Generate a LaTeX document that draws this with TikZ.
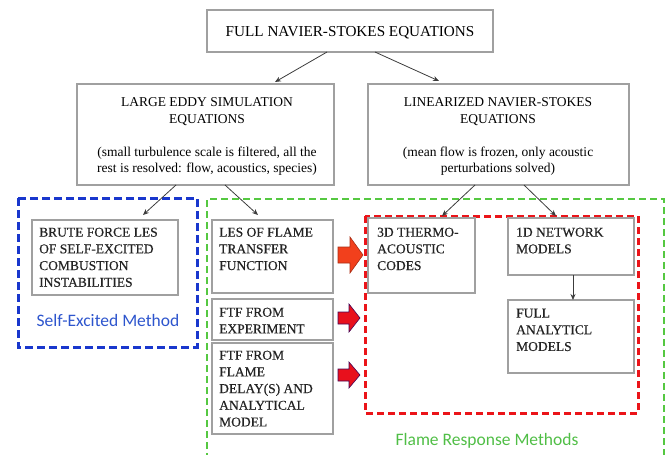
\documentclass[tikz,border=0pt]{standalone}
\usepackage{fontspec}
\setmainfont{Liberation Serif}
\newfontfamily\heavyfont{Liberation Serif}[FakeBold=0.35]
\newfontfamily\labelfont{Carlito}
\usetikzlibrary{arrows.meta,calc}
\definecolor{boxgray}{RGB}{160,160,160}
\definecolor{dblue}{RGB}{25,55,205}
\definecolor{tblue}{RGB}{45,85,205}
\definecolor{dgreen}{RGB}{85,200,65}
\definecolor{tgreen}{RGB}{80,190,70}
\definecolor{dred}{RGB}{235,20,25}
\definecolor{arrA}{RGB}{242,64,28}
\definecolor{arrB}{RGB}{232,16,28}
\definecolor{arrline}{RGB}{60,60,60}
\definecolor{txtdark}{RGB}{35,35,35}
\begin{document}
\begin{tikzpicture}[x=1pt,y=-1pt,
  box/.style={draw=boxgray, line width=1.5pt, fill=white, inner sep=0pt, outer sep=0pt, anchor=north west},
  txt/.style={inner sep=0pt, anchor=north west, align=left, text=txtdark, font=\heavyfont\fontsize{13.5}{16.7}\selectfont},
  ctxt/.style={inner sep=0pt, anchor=north, align=center, font=\fontsize{13.5}{16.7}\selectfont},
  arr/.style={draw=arrline, line width=0.8pt, -{Stealth[length=6pt,width=5pt]}},
  bluebox/.style={draw=dblue, line width=3pt, dash pattern=on 8pt off 4pt},
  greenbox/.style={draw=dgreen, line width=2.4pt, dash pattern=on 7pt off 4pt},
  redbox/.style={draw=dred, line width=3pt, dash pattern=on 7pt off 4pt},
  lbl/.style={inner sep=0pt, font=\labelfont\fontsize{17.5}{20}\selectfont}
]
\useasboundingbox (0,0) rectangle (672,455);

% dashed group frames
\draw[greenbox] (207,460) -- (207,199) -- (664,199) -- (664,460);
\draw[bluebox] (18,198) rectangle (197,347);
\draw[redbox] (365,216) rectangle (638,413);

% top box
\node[box, minimum width=286pt, minimum height=42pt] (top) at (207,10) {};
\node[inner sep=0pt, anchor=base, font=\fontsize{15.2}{17}\selectfont] (topt) at (350,36) {FULL NAVIER-STOKES EQUATIONS};

% second level
\node[box, minimum width=257pt, minimum height=101pt] (les) at (77,84) {};
\node[ctxt] (lest) at (207,97.5) {LARGE EDDY SIMULATION\\EQUATIONS\\[16pt](small turbulence scale is filtered, all the\\rest is resolved: flow, acoustics, species)};

\node[box, minimum width=261pt, minimum height=101pt] (lns) at (368,84) {};
\node[ctxt] (lnst) at (498,97.5) {LINEARIZED NAVIER-STOKES\\EQUATIONS\\[16pt](mean flow is frozen, only acoustic\\perturbations solved)};

% lower boxes
\node[box, minimum width=146pt, minimum height=75pt] (brute) at (32,220) {};
\node[txt] (brutet) at (39,227.5) {BRUTE FORCE LES\\OF SELF-EXCITED\\COMBUSTION\\INSTABILITIES};

\node[box, minimum width=121pt, minimum height=73pt] (ftfa) at (212,220) {};
\node[txt] (ftfat) at (219,227.5) {LES OF FLAME\\TRANSFER\\FUNCTION};

\node[box, minimum width=121pt, minimum height=41pt] (ftfb) at (212,299) {};
\node[txt] (ftfbt) at (219,307.5) {FTF FROM\\EXPERIMENT};

\node[box, minimum width=121pt, minimum height=91pt] (ftfc) at (212,343) {};
\node[txt] (ftfct) at (219,350.5) {FTF FROM\\FLAME\\DELAY(S) AND\\ANALYTICAL\\MODEL};

\node[box, minimum width=107pt, minimum height=75pt] (tdc) at (368,218) {};
\node[txt] (tdct) at (377,227.5) {3D THERMO-\\ACOUSTIC\\CODES};

\node[box, minimum width=126pt, minimum height=57pt] (net) at (508,218) {};
\node[txt] (nett) at (516,227.5) {1D NETWORK\\MODELS};

\node[box, minimum width=126pt, minimum height=73pt] (ana) at (508,300) {};
\node[txt] (anat) at (516,308.5) {FULL\\ANALYTICL\\MODELS};

% labels
\node[lbl, text=tblue] (selfl) at (108,320) {Self-Excited Method};
\node[lbl, text=tgreen, anchor=base] (flamel) at (487,445.5) {Flame Response Methods};

% connectors
\draw[arr] ([xshift=-23pt]top.south) -- ([xshift=69.5pt,yshift=2pt]les.north);
\draw[arr] ([xshift=25pt]top.south) -- ([xshift=-59.5pt,yshift=3pt]lns.north);
\draw[arr] ([xshift=-29.5pt]les.south) -- ([xshift=38pt,yshift=5pt]brute.north);
\draw[arr] ([xshift=19.5pt]les.south) -- ([xshift=-14.5pt,yshift=5pt]ftfa.north);
\draw[arr] ([xshift=-23.5pt]lns.south) -- ([xshift=20.5pt,yshift=2pt]tdc.north);
\draw[arr] ([xshift=25.5pt]lns.south) -- ([xshift=-15pt,yshift=2pt]net.north);
\draw[arr] ([xshift=2pt]net.south) -- ([xshift=2pt]ana.north);

% red block arrows
\draw[fill=arrA, draw=arrA!70!black, line width=0.6pt]
  (338,247) -- (350,247) -- (350,237) -- (363,255) -- (350,273) -- (350,263) -- (338,263) -- cycle;
\draw[fill=arrB, draw=arrB!50!blue!60!black, line width=0.6pt]
  (338,312) -- (349,312) -- (349,304) -- (360,318) -- (349,332) -- (349,324) -- (338,324) -- cycle;
\draw[fill=arrB, draw=arrB!50!blue!60!black, line width=0.6pt]
  (338,369) -- (349,369) -- (349,362) -- (360,375) -- (349,388) -- (349,381) -- (338,381) -- cycle;
\end{tikzpicture}
\end{document}
